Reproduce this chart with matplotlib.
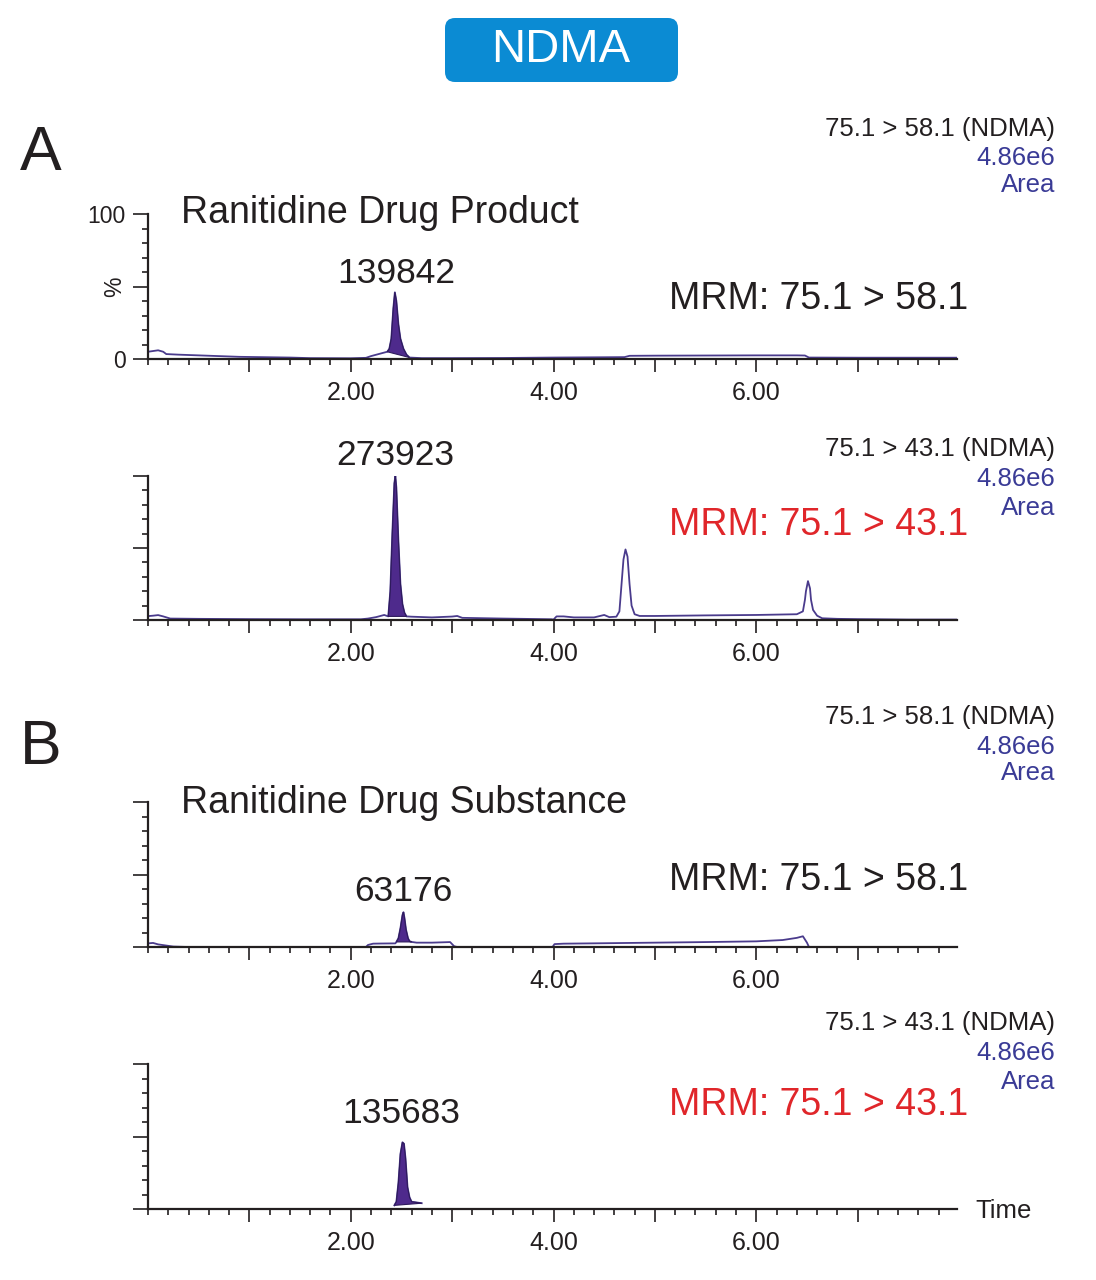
import numpy as np
import matplotlib
matplotlib.use("Agg")
from matplotlib import pyplot as plt
from matplotlib.patches import FancyBboxPatch
from matplotlib.ticker import MultipleLocator, FixedLocator, FuncFormatter

plt.rcParams['font.family'] = ['Liberation Sans', 'DejaVu Sans']

# chromatogram traces, time (min) vs. relative intensity (%)
a1_t = [0.0, 0.05, 0.1, 0.15, 0.18, 0.3, 0.5, 0.7, 0.9, 1.2, 1.4, 1.6, 2.0, 2.15, 2.2, 2.28, 2.36,
        2.38, 2.40, 2.42, 2.435, 2.45, 2.47, 2.49, 2.52, 2.55, 2.58, 2.7, 3.0, 3.5, 4.0, 4.5,
        4.7, 4.75, 5.0, 5.5, 6.0, 6.4, 6.48, 6.52, 7.0, 7.5, 7.98]
a1_i = [5.0, 5.5, 6.0, 5.0, 3.4, 3.0, 2.5, 2.0, 1.5, 1.2, 1.0, 0.6, 0.5, 0.8, 2.0, 3.5, 5.0,
        7, 14, 35, 46, 40, 24, 14, 7, 3, 1.0, 0.6, 0.6, 0.7, 1.0, 1.2,
        1.3, 2.2, 2.3, 2.4, 2.5, 2.5, 2.4, 1.0, 0.9, 0.9, 0.9]

a2_t = [0.0, 0.05, 0.1, 0.15, 0.22, 0.5, 1.0, 1.5, 2.1, 2.17, 2.25, 2.33, 2.37,
        2.39, 2.41, 2.43, 2.44, 2.45, 2.47, 2.49, 2.51, 2.53, 2.55, 2.6, 2.8, 3.0, 3.05,
        3.1, 3.5, 3.8, 3.98, 4.0, 4.03, 4.1, 4.2, 4.4, 4.5, 4.55, 4.62, 4.65, 4.67, 4.69,
        4.71, 4.73, 4.75, 4.77, 4.80, 4.85, 5.0, 5.5, 6.0, 6.4, 6.46, 6.48, 6.49, 6.51,
        6.53, 6.54, 6.56, 6.6, 6.65, 6.8, 7.0, 7.2, 7.5, 7.98]
a2_i = [2.7, 3.0, 3.4, 2.5, 1.0, 0.8, 0.6, 0.5, 0.5, 1.0, 2.0, 3.5, 2.5,
        20, 60, 95, 100, 92, 55, 25, 11, 5, 2.5, 2.3, 1.8, 2.4, 2.8,
        1.5, 1.0, 0.7, 0.5, 0.3, 2.5, 2.5, 1.8, 1.8, 3.5, 2.0, 2.3, 6, 24, 42,
        49, 44, 25, 10, 4, 2.8, 2.8, 3.2, 3.5, 4.0, 6, 14, 20, 27,
        22, 14, 7, 3, 1.2, 0.8, 0.6, 0.5, 0.3, 0.3]

b1_t = [0.0, 0.05, 0.1, 0.2, 0.25, 0.4, 2.15, 2.17, 2.22, 2.3, 2.44,
        2.45, 2.47, 2.49, 2.51, 2.52, 2.53, 2.545, 2.565, 2.58, 2.60,
        2.65, 2.8, 2.98, 3.02, 3.05, 3.99, 4.01, 4.1, 4.5, 5.0, 5.5, 6.0, 6.26, 6.4, 6.46,
        6.5, 6.52, 7.98]
b1_i = [2.5, 2.8, 1.8, 0.8, 0.3, 0.0, 0.0, 1.4, 2.3, 2.4, 2.5,
        3.5, 6, 13, 22, 24, 20, 12, 6, 4, 3.5,
        3.0, 3.0, 3.4, 0.5, 0.0, 0.0, 2.0, 2.3, 2.6, 3.0, 3.4, 3.9, 4.8, 6.3, 7.4,
        3.0, 0.0, 0.0]

b2_t = [2.43, 2.45, 2.47, 2.49, 2.51, 2.525, 2.54, 2.56, 2.58, 2.60, 2.65, 2.70]
b2_i = [2.5, 5, 18, 38, 46, 45, 35, 15, 8, 5, 4.5, 4.0]

# integrated peak windows (min)
peak_windows = [(2.36, 2.58), (2.37, 2.55), (2.45, 2.60), (2.43, 2.70)]
peak_areas = ['139842', '273923', '63176', '135683']
peak_label_pos = [(2.45, 59), (2.44, 114), (2.52, 38), (2.50, 66)]

transitions = ['75.1 > 58.1', '75.1 > 43.1', '75.1 > 58.1', '75.1 > 43.1']
mrm_colors = ['#231f20', '#e0262a', '#231f20', '#e0262a']
scale_text = '4.86e6'

W, H = 1096, 1280
fig = plt.figure(figsize=(W / 100, H / 100), dpi=100)


def fx(px):
    return px / W


def fy(py):
    return 1 - py / H


traces = [(a1_t, a1_i), (a2_t, a2_i), (b1_t, b1_i), (b2_t, b2_i)]
# pixel rows of each panel (top, bottom) and the header/MRM text rows
panel_rows = [(214, 359), (476, 620), (802, 947), (1064, 1209)]
header_rows = [(129, 158, 185), (449, 479, 508), (717, 747, 773), (1023, 1053, 1082)]
mrm_rows = [299, 525, 880, 1105]

line_col = '#4a3b8c'
fill_col = '#4e2a8c'
ink = '#231f20'
blue = '#3a3b96'

for k, (t, y) in enumerate(traces):
    top, bot = panel_rows[k]
    ax = fig.add_axes([fx(148), fy(bot), fx(957) - fx(148), (bot - top) / H])
    t = np.array(t)
    y = np.array(y)
    ax.plot(t, y, color=line_col, lw=1.3, zorder=2)
    t0, t1 = peak_windows[k]
    m = (t >= t0) & (t <= t1)
    ax.fill(t[m], y[m], color=fill_col, lw=0.8, ec='#2e1a5c', zorder=2)

    ax.set_xlim(0, 7.98)
    ax.set_ylim(0, 100)
    for s in ['top', 'right']:
        ax.spines[s].set_visible(False)
    for s in ['left', 'bottom']:
        ax.spines[s].set_color(ink)
        ax.spines[s].set_linewidth(1.6)

    ax.xaxis.set_major_locator(FixedLocator([1, 2, 3, 4, 5, 6, 7]))
    ax.xaxis.set_minor_locator(MultipleLocator(0.2))
    ax.xaxis.set_major_formatter(FuncFormatter(lambda v, p: '%.2f' % v if int(round(v)) % 2 == 0 else ''))
    ax.yaxis.set_major_locator(FixedLocator([0, 50, 100]))
    ax.yaxis.set_minor_locator(MultipleLocator(10))
    ax.tick_params(axis='x', which='major', length=9, width=1.2, color=ink, labelsize=18, pad=7, labelcolor=ink)
    ax.tick_params(axis='x', which='minor', length=4.5, width=1.2, color=ink)
    ax.tick_params(axis='y', which='major', length=11, width=1.2, color=ink, labelsize=16.5, pad=5, labelcolor=ink)
    ax.tick_params(axis='y', which='minor', length=4.5, width=1.2, color=ink)
    if k == 0:
        ax.set_yticklabels(['0', '%', '100'])
        ax.get_yticklabels()[1].set_rotation(90)
        ax.get_yticklabels()[1].set_va('center')
    else:
        ax.set_yticklabels([])

    px, py = peak_label_pos[k]
    ax.text(px, py, peak_areas[k], ha='center', va='center', fontsize=25.5, color=ink, clip_on=False)

    r1, r2, r3 = header_rows[k]
    fig.text(fx(1055), fy(r1), transitions[k] + ' (NDMA)', ha='right', va='center', fontsize=18.5, color=ink)
    fig.text(fx(1055), fy(r2), scale_text, ha='right', va='center', fontsize=18.5, color=blue)
    fig.text(fx(1055), fy(r3), 'Area', ha='right', va='center', fontsize=18.5, color=blue)
    fig.text(fx(968), fy(mrm_rows[k]), 'MRM: ' + transitions[k], ha='right', va='center',
             fontsize=27, color=mrm_colors[k])

fig.text(fx(181), fy(213), 'Ranitidine Drug Product', ha='left', va='center', fontsize=27, color=ink)
fig.text(fx(181), fy(803), 'Ranitidine Drug Substance', ha='left', va='center', fontsize=27, color=ink)
fig.text(fx(20), fy(154), 'A', ha='left', va='center', fontsize=45, color=ink)
fig.text(fx(20), fy(747), 'B', ha='left', va='center', fontsize=45, color=ink)
fig.text(fx(975), fy(1211), 'Time', ha='left', va='center', fontsize=18.5, color=ink)

# title box
box = FancyBboxPatch((4.45, (H - 82) / 100), 2.33, 0.64, boxstyle='round,pad=0,rounding_size=0.1',
                     transform=fig.dpi_scale_trans, fc='#0b8bd3', ec='none')
fig.patches.append(box)
fig.text(fx(561), fy(50), 'NDMA', ha='center', va='center', fontsize=34, color='white')

fig.savefig('out.png', dpi=100)
